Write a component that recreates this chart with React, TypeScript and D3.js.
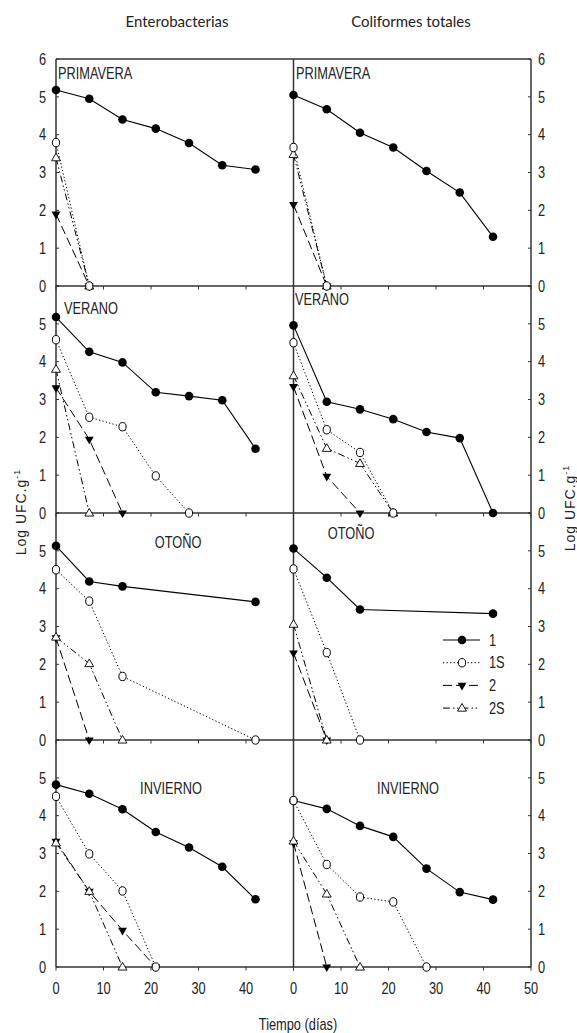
import React from "react";
import * as d3 from "d3";

const days = [0, 7, 14, 21, 28, 35, 42];
const seasons = ["PRIMAVERA", "VERANO", "OTOÑO", "INVIERNO"];
const groups = ["Enterobacterias", "Coliformes totales"];
const seriesNames = ["1", "1S", "2", "2S"];
const xTicks = [0, 10, 20, 30, 40, 50];
const yTicks = [0, 1, 2, 3, 4, 5, 6];

// Enterobacterias (values by day index, null = not measured)
const ent1 = [
  [5.18, 4.95, 4.4, 4.16, 3.78, 3.19, 3.08],
  [5.18, 4.26, 3.98, 3.19, 3.09, 2.98, 1.7],
  [5.13, 4.19, 4.06, null, null, null, 3.65],
  [4.82, 4.58, 4.17, 3.57, 3.16, 2.65, 1.79],
];
const ent1S = [
  [3.79, 0],
  [4.58, 2.53, 2.28, 0.98, 0],
  [4.5, 3.67, 1.68, null, null, null, 0],
  [4.51, 2.99, 2.01, 0],
];
const ent2 = [
  [1.9, 0],
  [3.31, 1.95, 0],
  [2.7, 0],
  [3.32, 2.0, 0.97, 0],
];
const ent2S = [
  [3.39, 0],
  [3.8, 0],
  [2.72, 2.02, 0],
  [3.28, 2.0, 0],
];

// Coliformes totales
const col1 = [
  [5.05, 4.67, 4.05, 3.66, 3.04, 2.47, 1.3],
  [4.96, 2.94, 2.74, 2.48, 2.14, 1.98, 0],
  [5.06, 4.29, 3.45, null, null, null, 3.34],
  [4.4, 4.18, 3.73, 3.44, 2.6, 1.98, 1.78],
];
const col1S = [
  [3.66, 0],
  [4.5, 2.2, 1.6, 0],
  [4.52, 2.31, 0],
  [4.4, 2.71, 1.85, 1.72, 0],
];
const col2 = [
  [2.15, 0],
  [3.34, 0.97, 0],
  [2.3, 0],
  [3.28, 0],
];
const col2S = [
  [3.48, 0],
  [3.63, 1.71, 1.31, 0],
  [3.06, 0],
  [3.33, 1.93, 0],
];

const groupData = [
  [ent1, ent1S, ent2, ent2S],
  [col1, col1S, col2, col2S],
];

// layout
const W = 577;
const H = 1033;
const X0 = 56;
const XM = 293.5;
const X1 = 531;
const TOP = 59;
const PH = 227;

const seasonLabelPos = [
  [
    { x: 58, y: 79, anchor: "start" },
    { x: 64, y: 314, anchor: "start" },
    { x: 178, y: 548, anchor: "middle" },
    { x: 171, y: 794, anchor: "middle" },
  ],
  [
    { x: 296, y: 79, anchor: "start" },
    { x: 295, y: 305, anchor: "start" },
    { x: 351, y: 539, anchor: "middle" },
    { x: 408, y: 794, anchor: "middle" },
  ],
];

const dashes: Record<string, string | undefined> = {
  "1": undefined,
  "1S": "1.3,2.2",
  "2": "9,4",
  "2S": "7,3,1.5,2.5,1.5,3",
};

const SANS = "'Liberation Sans', Arial, sans-serif";
const INK = "#222";
const SQUEEZE = 0.8;

function NText({
  x,
  y,
  anchor = "start",
  size = 16,
  dy,
  children,
}: {
  x: number;
  y: number;
  anchor?: string;
  size?: number;
  dy?: string;
  children: React.ReactNode;
}) {
  return (
    <text
      transform={`translate(${x},${y}) scale(${SQUEEZE},1)`}
      dy={dy}
      textAnchor={anchor as any}
      fontFamily={SANS}
      fontSize={size}
      fill={INK}
    >
      {children}
    </text>
  );
}

function Marker({ name, x, y }: { name: string; x: number; y: number }) {
  if (name === "1") return <circle cx={x} cy={y} r={4.3} fill="#000" />;
  if (name === "1S")
    return <ellipse cx={x} cy={y} rx={3.6} ry={4.2} fill="#fff" stroke="#000" strokeWidth={1} />;
  const tri = d3.symbol().type(d3.symbolTriangle).size(34)() as string;
  if (name === "2")
    return <path d={tri} transform={`translate(${x},${y}) rotate(180)`} fill="#000" />;
  return <path d={tri} transform={`translate(${x},${y + 0.5})`} fill="#fff" stroke="#000" strokeWidth={0.9} />;
}

export default function App() {
  const xScales = [
    d3.scaleLinear().domain([0, 50]).range([X0, XM]),
    d3.scaleLinear().domain([0, 50]).range([XM, X1]),
  ];
  const yScales = seasons.map((_, i) =>
    d3.scaleLinear().domain([0, 6]).range([TOP + (i + 1) * PH, TOP + i * PH])
  );
  const bottom = TOP + 4 * PH;

  const elems: React.ReactNode[] = [];

  groups.forEach((g, gi) => {
    const xs = xScales[gi];
    seasons.forEach((s, si) => {
      const ys = yScales[si];
      const order = [0, 2, 3, 1];
      order.forEach((k) => {
        const name = seriesNames[k];
        const vals = groupData[gi][k][si];
        const pts = vals
          .map((v, i) => ({ d: days[i], v }))
          .filter((p) => p.v !== null && p.v !== undefined) as { d: number; v: number }[];
        const line = d3
          .line<{ d: number; v: number }>()
          .x((p) => xs(p.d))
          .y((p) => ys(p.v));
        elems.push(
          <path
            key={`l-${gi}-${si}-${k}`}
            d={line(pts) || ""}
            fill="none"
            stroke="#000"
            strokeWidth={name === "1" ? 1.1 : 1}
            strokeDasharray={dashes[name]}
          />
        );
        pts.forEach((p, j) => {
          elems.push(<Marker key={`m-${gi}-${si}-${k}-${j}`} name={name} x={xs(p.d)} y={ys(p.v)} />);
        });
      });
      const lp = seasonLabelPos[gi][si];
      elems.push(
        <NText key={`s-${gi}-${si}`} x={lp.x} y={lp.y} anchor={lp.anchor}>
          {s}
        </NText>
      );
    });
  });

  // frame and axes
  const axes: React.ReactNode[] = [];
  axes.push(<line key="top" x1={X0} x2={X1} y1={TOP} y2={TOP} stroke="#333" strokeWidth={1.3} />);
  [X0, XM, X1].forEach((x, i) =>
    axes.push(<line key={`v${i}`} x1={x} x2={x} y1={TOP} y2={bottom} stroke="#333" strokeWidth={1.5} />)
  );
  seasons.forEach((_, si) => {
    const ys = yScales[si];
    axes.push(
      <line key={`h${si}`} x1={X0} x2={X1} y1={ys(0)} y2={ys(0)} stroke="#333" strokeWidth={1.3} />
    );
    xScales.forEach((xs, gi) =>
      xTicks.forEach((t) =>
        axes.push(
          <line key={`xt${si}-${gi}-${t}`} x1={xs(t)} x2={xs(t)} y1={ys(0)} y2={ys(0) + 3.5} stroke="#333" strokeWidth={1} />
        )
      )
    );
    const labels = si === 0 ? yTicks : yTicks.slice(0, 6);
    yTicks.forEach((t) => {
      axes.push(
        <line key={`ytl${si}-${t}`} x1={X0} x2={X0 + 3} y1={ys(t)} y2={ys(t)} stroke="#333" strokeWidth={1} />,
        <line key={`ytr${si}-${t}`} x1={X1 - 3} x2={X1} y1={ys(t)} y2={ys(t)} stroke="#333" strokeWidth={1} />
      );
    });
    labels.forEach((t) => {
      axes.push(
        <NText key={`yl${si}-${t}`} x={46} y={ys(t)} dy="0.36em" anchor="end">
          {t}
        </NText>,
        <NText key={`yr${si}-${t}`} x={538} y={ys(t)} dy="0.36em" anchor="start">
          {t}
        </NText>
      );
    });
  });
  xScales.forEach((xs, gi) => {
    const ticks = gi === 0 ? xTicks.slice(0, 5) : xTicks;
    ticks.forEach((t) =>
      axes.push(
        <NText key={`xl${gi}-${t}`} x={xs(t)} y={994} anchor="middle">
          {t}
        </NText>
      )
    );
  });

  // legend
  const legend = seriesNames.map((name, i) => {
    const y = 640 + i * 22.7;
    return (
      <g key={`lg-${name}`}>
        <line x1={443} x2={480} y1={y} y2={y} stroke="#000" strokeWidth={1} strokeDasharray={dashes[name]} />
        <Marker name={name} x={462} y={y} />
        <NText x={489} y={y} dy="0.36em">
          {name}
        </NText>
      </g>
    );
  });

  return (
    <svg width={W} height={H} style={{ position: "absolute", left: 0, top: 0, background: "#fff" }}>
      <rect x={0} y={0} width={W} height={H} fill="#fff" />
      {groups.map((g, gi) => (
        <text key={g} x={gi === 0 ? 177 : 411} y={27} textAnchor="middle" fontFamily="Lato, 'Open Sans', sans-serif" fontSize={15} fill={INK}>
          {g}
        </text>
      ))}
      <text transform="translate(26,512) rotate(-90)" textAnchor="middle" fontFamily={SANS} fontSize={14} letterSpacing={1} fill={INK}>
        Log UFC.g<tspan dy={-6} fontSize={9}>-1</tspan>
      </text>
      <text transform="translate(575,508) rotate(-90)" textAnchor="middle" fontFamily={SANS} fontSize={14} letterSpacing={1} fill={INK}>
        Log UFC.g<tspan dy={-6} fontSize={9}>-1</tspan>
      </text>
      <NText x={298} y={1030} anchor="middle">
        Tiempo (días)
      </NText>
      {axes}
      {elems}
      {legend}
    </svg>
  );
}
